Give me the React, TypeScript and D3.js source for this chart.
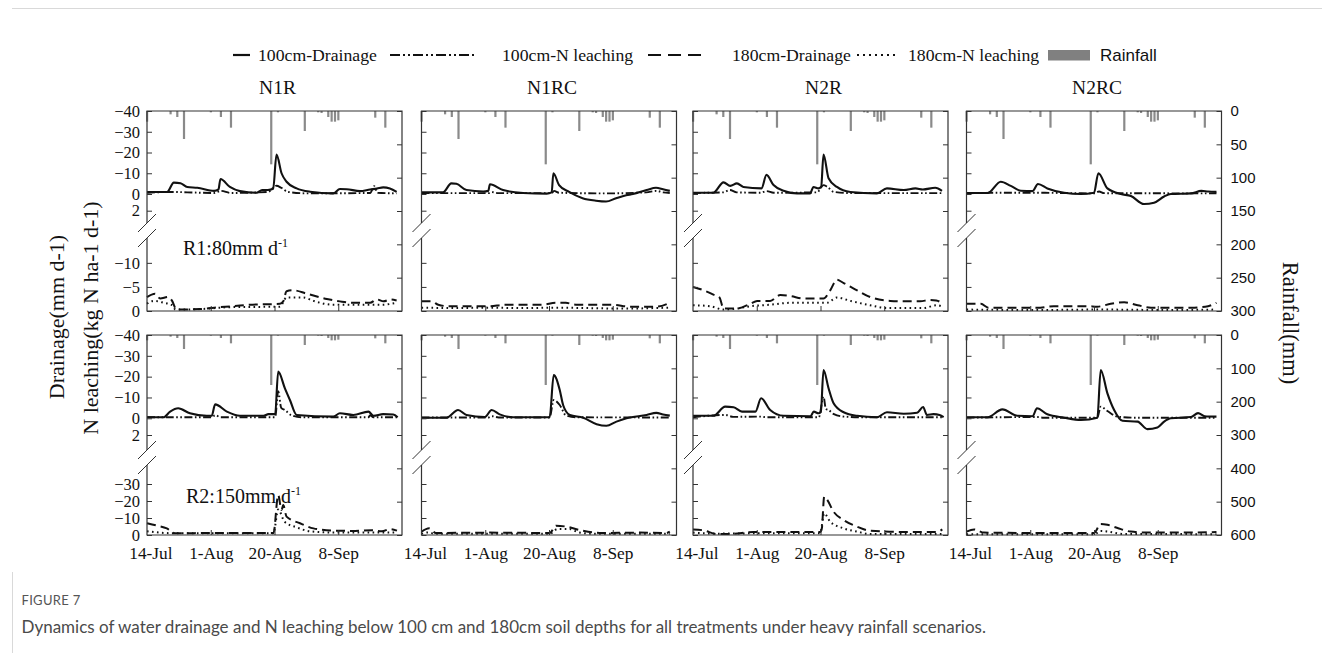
import * as d3 from "d3";
import { useEffect, useRef } from "react";

type Pt = [number, number];

// x axis: day 0 = 13-Jul
const panelNames = ["N1R", "N1RC", "N2R", "N2RC"];
const tickDays = [1, 19, 38, 57];
const tickLabels = ["14-Jul", "1-Aug", "20-Aug", "8-Sep"];

// daily rainfall (mm); the two scenarios differ only in the storm of 19-Aug
const rainDays = [0, 7, 9, 11, 19, 22, 25, 37, 39, 47, 51, 52, 54, 55, 56, 57, 68, 71];
const rainR1 = [16, 5, 9, 42, 2, 9, 25, 80, 2, 30, 2, 3, 9, 16, 16, 14, 10, 25];
const rainR2 = [16, 5, 9, 42, 2, 9, 25, 150, 2, 30, 2, 3, 9, 16, 16, 14, 10, 25];

// ---- R1 : 80 mm d-1 ----
const r1N1R_d100: Pt[] = [[0,-1],[6,-1],[8,-5.5],[10,-5.2],[12,-3.4],[15,-3],[20,-1.5],[21.3,-2.2],[21.9,-7.2],[24.7,-3.4],[27.7,-1.4],[32.7,-0.6],[34.3,-1.9],[36,-1.9],[37.6,-2.5],[38.6,-19],[40.1,-10],[41.6,-5.9],[44.6,-2.7],[48.6,-1.1],[55.5,-0.3],[57.5,-2.4],[59.5,-2.3],[63.5,-1.4],[66.5,-2.2],[68.5,-2.6],[70.4,-3.2],[72.4,-2.7],[74.4,-1]];
const r1N1R_n100: Pt[] = [[0,-0.6],[8,-1],[12,-0.8],[20,-0.5],[22,-1.5],[25,-0.5],[36,-1],[38.6,-4],[40,-3],[42,-1],[48,-0.3],[66.5,-0.5],[67.7,-3.8],[68.7,-0.6],[74.4,-0.3]];
const r1N1R_d180: Pt[] = [[0,-2.9],[2.4,-3.6],[3.9,-2.6],[6.3,-2.9],[7.4,-2.2],[8.8,-0.3],[15.8,-0.4],[20,-0.7],[25.7,-1],[30.7,-1.3],[39.6,-1.5],[40.6,-2],[41.6,-4.1],[43.6,-4.3],[47.6,-3.6],[53.6,-2.5],[57.5,-2],[61.5,-1.7],[66.5,-1.7],[68.5,-2.4],[70.5,-2],[72.5,-2.4],[74.4,-2.2]];
const r1N1R_n180: Pt[] = [[0,-1.5],[2,-2.1],[5,-1.7],[7.5,-1.2],[8.5,-0.3],[16,-0.4],[25,-0.8],[39.6,-0.9],[41.6,-2.8],[46.6,-2.8],[49.6,-2.1],[55.5,-1.3],[66,-1.3],[70,-1.3],[74.4,-1.7]];

const r1N1RC_d100: Pt[] = [[0,-0.8],[6.4,-0.8],[8.9,-5.1],[10.4,-4.9],[13.4,-1.9],[18.4,-1.2],[19.9,-1.5],[20.4,-4.7],[24.3,-1.9],[30.3,-0.5],[37.3,-0.2],[38.8,-0.8],[39.3,-10],[41,-4.3],[44,-1],[48,0.5],[52,0.8],[55,0.9],[58,0.5],[61,0.15],[63,0],[67.1,-1.9],[69.9,-3],[72,-2.3],[74,-1.5]];
const r1N1RC_n100: Pt[] = [[0,-0.4],[20,-0.4],[21,-0.9],[23,-0.4],[38.8,-0.4],[39.5,-1.5],[41,-0.6],[55,-0.3],[67,-0.8],[70,-1.5],[72,-0.8],[74,-0.5]];
const r1N1RC_d180: Pt[] = [[0,-2],[3,-2],[5,-1.3],[8,-1],[20,-1],[25,-1.3],[36,-1.3],[40,-1.7],[43,-1.7],[46,-1.3],[57,-1.3],[62,-0.9],[70,-0.9],[74,-1.7]];
const r1N1RC_n180: Pt[] = [[0,-0.7],[10,-0.6],[20,-0.7],[30,-0.6],[40,-0.7],[50,-0.6],[60,-0.5],[74,-0.7]];

const r1N2R_d100: Pt[] = [[0,-0.6],[6,-0.6],[9.1,-5.6],[11.1,-3.9],[13.1,-5.1],[15,-3.4],[20.4,-2.7],[21.9,-9.2],[24,-4.3],[27,-1.6],[31,-0.3],[34.9,-0.3],[35.9,-3.4],[37.4,-2.7],[38.2,-3.5],[38.9,-19],[40.4,-7.6],[42.9,-3.4],[46.9,-1],[54.8,-0.3],[57.8,-2.7],[62.8,-1.9],[66.3,-2.7],[68.5,-2.2],[72.2,-3],[74.2,-1.5]];
const r1N2R_n100: Pt[] = [[0,-0.5],[9,-0.8],[11,-1.9],[13,-0.8],[20,-0.6],[22,-1.4],[24,-0.6],[37,-0.8],[38.9,-4.3],[40,-3.5],[42,-1],[48,-0.4],[74,-0.4]];
const r1N2R_d180: Pt[] = [[0,-5],[3.2,-4.3],[6.1,-3.4],[7.9,-2.8],[9.1,-0.5],[13,-0.5],[17.1,-1.5],[19.1,-2.1],[23,-2.1],[26,-3.3],[29,-3.1],[33,-2.6],[38.9,-2.6],[40.9,-4.3],[42.9,-6.5],[44.9,-5.8],[48.9,-4.3],[52.8,-2.9],[58.8,-2.1],[62.8,-2],[67.7,-2],[70.6,-2.3],[72.5,-2.2],[74.5,-1.5]];
const r1N2R_n180: Pt[] = [[0,-1.2],[5,-1],[9.1,-0.3],[13,-0.5],[17.1,-1],[23,-1.3],[29,-1.7],[35,-1.7],[39.9,-1.7],[42.9,-2.8],[46.9,-2.1],[52.8,-1.2],[57.8,-0.6],[68.7,-0.6],[72.6,-1.2],[74.5,-0.9]];

const r1N2RC_d100: Pt[] = [[0,-0.5],[6.3,-0.5],[10.2,-5.9],[13.2,-3.9],[16.2,-1.6],[19.7,-1.4],[21.3,-4.8],[24.1,-2.7],[29.1,-0.6],[34.1,0],[38,-0.6],[39.3,-10],[42,-2.7],[46,0],[49,0.25],[52.9,1.2],[55.9,1.05],[58.9,0.3],[60.9,0],[66.9,-0.3],[70,-1.5],[72,-1.2],[74.5,-1]];
const r1N2RC_n100: Pt[] = [[0,-0.3],[10,-0.6],[21,-0.6],[38,-0.3],[39.5,-1.2],[41,-0.4],[74.5,-0.3]];
const r1N2RC_d180: Pt[] = [[0,-1.5],[4.3,-1.5],[6.5,-0.7],[22,-0.7],[26,-1],[36,-1],[39,-0.9],[43,-1.5],[47,-1.8],[51,-1.2],[55,-0.7],[67,-0.7],[72,-1],[74.5,-1.7]];
const r1N2RC_n180: Pt[] = [[0,-0.3],[20,-0.2],[40,-0.3],[60,-0.2],[74.5,-0.3]];

// ---- R2 : 150 mm d-1 ----
const r2N1R_d100: Pt[] = [[0,-0.5],[4.9,-0.5],[6.9,-3.2],[9.3,-4.8],[12.8,-2.4],[17.8,-1.2],[19.3,-1.2],[20.3,-6.7],[23.8,-3.2],[27.7,-1.2],[34.7,-1.2],[36.2,-2],[38.2,-2],[39.1,-22.4],[41.1,-14.4],[42.6,-8.8],[44.6,-1.6],[55.5,-0.8],[57.5,-2.4],[61.5,-1.6],[66,-3.2],[67.5,-1.2],[70.4,-2],[73.4,-1.8],[74.7,-0.5]];
const r2N1R_n100: Pt[] = [[0,-0.5],[19.3,-0.5],[20.3,-1.5],[22,-0.5],[38.2,-0.5],[39.1,-13],[40,-5],[41.1,-4],[43,-1.5],[46,-0.5],[66,-0.5],[66.5,-1.5],[67.5,-0.5],[74.7,-0.5]];
const r2N1R_d180: Pt[] = [[0,-6.9],[3,-5.5],[5.9,-3.9],[8.3,-1],[20,-1.2],[37.7,-1.2],[39.1,-23.5],[40.1,-14.7],[40.6,-17.6],[41.6,-10.8],[45.6,-6.9],[49.6,-3.9],[55.5,-2.6],[62,-2.4],[67,-2.8],[70,-2.2],[72.5,-3.5],[74.5,-2.6]];
const r2N1R_n180: Pt[] = [[0,-2.2],[8,-1],[37.7,-1],[39.1,-15],[41,-7.8],[44.6,-4.5],[48.6,-2.2],[55.5,-1.5],[74.5,-1.5]];

const r2N1RC_d100: Pt[] = [[0,-0.3],[7.5,-0.3],[10.9,-4],[13.4,-1.6],[18.9,-0.6],[20.9,-4],[23.3,-1.9],[27.3,-0.5],[38.2,-0.5],[39.4,-20.8],[41.2,-13.6],[42.2,-6.4],[44.2,-1.6],[48.2,-0.3],[52.2,0.7],[55.1,0.9],[58.1,0.4],[61.1,0],[67.1,-1.6],[70,-2.6],[72,-1.8],[74,-1.3]];
const r2N1RC_n100: Pt[] = [[0,-0.4],[20,-0.4],[21,-1],[23,-0.4],[38.2,-0.4],[39.4,-8.8],[41.2,-6.4],[43,-1.5],[46,-0.5],[74,-0.4]];
const r2N1RC_d180: Pt[] = [[0,-1.9],[2.3,-3.9],[4.3,-1.2],[20,-1.4],[38.2,-1.2],[40.1,-5.5],[43.2,-4.9],[47.2,-2.9],[53.2,-1.2],[65,-1.4],[73,-1.2],[74,-2]];
const r2N1RC_n180: Pt[] = [[0,-0.7],[2,-1.5],[4,-0.7],[38.2,-0.7],[40.5,-3.5],[44,-3.5],[47,-1.5],[52,-0.7],[74,-0.7]];

const r2N2R_d100: Pt[] = [[0,-1.2],[6.1,-1.2],[9.6,-5.6],[12.1,-5.3],[14.6,-3.2],[18.6,-3.2],[20.3,-9.6],[23,-4],[27,-1.2],[35,-1],[36,-3.2],[37.4,-2.4],[38.1,-3],[38.9,-23.2],[40.4,-14.4],[41.9,-7.2],[44.9,-2.9],[48.9,-1.2],[54.8,-0.5],[57.8,-2.9],[62.8,-2.2],[66.8,-2.7],[68.6,-5.4],[69.7,-1.6],[71.7,-2],[73.5,-1.6],[74.7,-0.6]];
const r2N2R_n100: Pt[] = [[0,-0.5],[9.6,-1.6],[12,-0.7],[20.3,-0.8],[22,-0.5],[37.5,-0.5],[38.9,-10.4],[39.6,-4.5],[40.4,-4],[42,-2],[45,-0.8],[50,-0.5],[74.7,-0.5]];
const r2N2R_d180: Pt[] = [[0,-3.3],[3.2,-2.7],[7.1,-0.6],[11.1,-0.6],[18,-1.8],[37.9,-1.8],[38.4,-4],[39.1,-22.5],[39.9,-21],[41.9,-13.7],[44.9,-8.8],[48.9,-4.9],[52.8,-2.5],[62.8,-1.8],[72.8,-1.8],[74.3,-3.3]];
const r2N2R_n180: Pt[] = [[0,-1.4],[7,-0.8],[20,-1],[37.9,-1],[39.1,-12.7],[40.9,-7.8],[44.9,-3.9],[48.9,-2],[52.8,-0.6],[74.3,-0.6]];

const r2N2RC_d100: Pt[] = [[0,-0.5],[6.3,-0.5],[10.7,-4.3],[15.2,-1.2],[19.7,-1],[21,-4.8],[24.1,-1.9],[29.1,-0.3],[34.1,0.2],[39,-0.3],[40,-23.2],[42,-12],[44,-4],[46.5,0.3],[51,0.4],[53.9,1.3],[56.9,1.1],[58.9,0.4],[60.9,0],[66.9,-0.6],[69,-2.5],[71,-1],[74.5,-0.8]];
const r2N2RC_n100: Pt[] = [[0,-0.3],[21,-0.6],[23,-0.3],[39,-0.3],[40,-5.6],[42,-3.5],[45,-0.8],[50,-0.3],[74.5,-0.3]];
const r2N2RC_d180: Pt[] = [[0,-2],[2.3,-3.3],[5.2,-1.4],[20,-1.2],[38,-1.2],[40,-6.5],[42,-6],[45,-4.1],[48.9,-2],[53.9,-1.4],[66.9,-1.4],[74.5,-1.8]];
const r2N2RC_n180: Pt[] = [[0,-0.4],[38,-0.4],[40,-2.4],[42,-2],[47,-0.6],[74.5,-0.5]];

const seriesR1 = [
  [r1N1R_d100, r1N1R_n100, r1N1R_d180, r1N1R_n180],
  [r1N1RC_d100, r1N1RC_n100, r1N1RC_d180, r1N1RC_n180],
  [r1N2R_d100, r1N2R_n100, r1N2R_d180, r1N2R_n180],
  [r1N2RC_d100, r1N2RC_n100, r1N2RC_d180, r1N2RC_n180],
];
const seriesR2 = [
  [r2N1R_d100, r2N1R_n100, r2N1R_d180, r2N1R_n180],
  [r2N1RC_d100, r2N1RC_n100, r2N1RC_d180, r2N1RC_n180],
  [r2N2R_d100, r2N2R_n100, r2N2R_d180, r2N2R_n180],
  [r2N2RC_d100, r2N2RC_n100, r2N2RC_d180, r2N2RC_n180],
];

const SERIF = "'Liberation Serif', 'Times New Roman', serif";
const SANS = "'Liberation Sans', Arial, sans-serif";
const CAPTION = "Lato, 'Open Sans', sans-serif";

const panelLefts = [147, 421.5, 693, 966.5];
const panelW = 255;

const rows = [
  { top: 111, zeroY: 194, twoY: 210.7, lowTop: 214.7, lowMin: -20, bottom: 311,
    lowTicks: [-10, -5, 0], rainMax: 300, rainStep: 50, breaks: [223, 238],
    rain: rainR1, series: seriesR1, note: "R1:80mm d", noteX: 36, noteY: 255 },
  { top: 335, zeroY: 418.3, twoY: 435, lowTop: 433, lowMin: -60, bottom: 535,
    lowTicks: [-30, -20, -10, 0], rainMax: 600, rainStep: 100, breaks: [450, 465],
    rain: rainR2, series: seriesR2, note: "R2:150mm d", noteX: 39, noteY: 503 },
];

// line styles: 100cm drainage, 100cm N leaching, 180cm drainage, 180cm N leaching
const lineStyles = [
  { dash: null as string | null, width: 2.1 },
  { dash: "8,2.5,1.6,2.5,1.6,2.5", width: 1.9 },
  { dash: "9,5", width: 2 },
  { dash: "1.6,3.4", width: 2 },
];

const fmtTick = (d: number) => (d < 0 ? "\u2212" + Math.abs(d) : String(d));

export default function App() {
  const ref = useRef<SVGSVGElement>(null);

  useEffect(() => {
    const svg = d3.select(ref.current);
    svg.selectAll("*").remove();

    svg.append("rect").attr("width", 1322).attr("height", 653).attr("fill", "#fff");
    // page frame lines
    svg.append("line").attr("x1", 12).attr("x2", 1322).attr("y1", 8.5).attr("y2", 8.5)
      .attr("stroke", "#d9d9d9").attr("stroke-width", 1);
    svg.append("line").attr("x1", 12.5).attr("x2", 12.5).attr("y1", 572).attr("y2", 653)
      .attr("stroke", "#d9d9d9").attr("stroke-width", 1);

    // legend
    const legendItems = [
      { x1: 233, x2: 250, st: 0, tx: 258, label: "100cm-Drainage" },
      { x1: 390, x2: 475, st: 1, tx: 502, label: "100cm-N leaching" },
      { x1: 648, x2: 708, st: 2, tx: 732, label: "180cm-Drainage" },
      { x1: 857, x2: 897, st: 3, tx: 908, label: "180cm-N leaching" },
    ];
    const legDash = ["", "10,3,2,3,2,3", "13,7", "2,4"];
    const leg = svg.append("g");
    legendItems.forEach((it) => {
      leg.append("line").attr("x1", it.x1).attr("x2", it.x2).attr("y1", 55).attr("y2", 55)
        .attr("stroke", "#111").attr("stroke-width", 2.2)
        .attr("stroke-dasharray", legDash[it.st] || null);
      leg.append("text").attr("x", it.tx).attr("y", 60.5).text(it.label)
        .attr("font-family", SERIF).attr("font-size", 17.7).attr("fill", "#111");
    });
    leg.append("rect").attr("x", 1048).attr("y", 50).attr("width", 42).attr("height", 10.5).attr("fill", "#808080");
    leg.append("text").attr("x", 1100).attr("y", 61).text("Rainfall")
      .attr("font-family", SANS).attr("font-size", 17).attr("fill", "#111");

    // panel titles
    panelNames.forEach((name, pi) => {
      svg.append("text").attr("x", panelLefts[pi] + panelW / 2 + 3).attr("y", 93.5)
        .attr("text-anchor", "middle").attr("font-family", SERIF).attr("font-size", 19.5)
        .attr("fill", "#111").text(name);
    });

    const styleAxis = (g: any, size: number, family: string) => {
      g.select(".domain").remove();
      g.selectAll(".tick line").attr("stroke", "#333").attr("stroke-width", 1);
      g.selectAll(".tick text").attr("font-family", family).attr("font-size", size).attr("fill", "#111");
    };

    rows.forEach((row, ri) => {
      panelNames.forEach((_, pi) => {
        const left = panelLefts[pi];
        const right = left + panelW;
        const x = d3.scaleLinear().domain([0, 76]).range([left, right]);
        const yUp = d3.scaleLinear().domain([-40, 0, 2]).range([row.top, row.zeroY, row.twoY]);
        const yLow = d3.scaleLinear().domain([row.lowMin, 0]).range([row.lowTop, row.bottom]);
        const yRain = d3.scaleLinear().domain([0, row.rainMax]).range([row.top, row.bottom]);
        const g = svg.append("g");

        // rainfall bars hanging from the top
        g.selectAll("rect.rain")
          .data(rainDays.map((d, i) => [d, row.rain[i]] as Pt))
          .join("rect")
          .attr("class", "rain")
          .attr("x", (d) => x(d[0]) - 1)
          .attr("y", row.top)
          .attr("width", 2.2)
          .attr("height", (d) => yRain(d[1]) - row.top)
          .attr("fill", "#8a8a8a");

        // series
        row.series[pi].forEach((pts, si) => {
          const ys = si < 2 ? yUp : yLow;
          const line = d3.line<Pt>().x((d) => x(d[0])).y((d) => ys(d[1])).curve(d3.curveMonotoneX);
          g.append("path").attr("d", line(pts) as string)
            .attr("fill", "none").attr("stroke", "#111")
            .attr("stroke-width", lineStyles[si].width)
            .attr("stroke-linejoin", "round")
            .attr("stroke-dasharray", lineStyles[si].dash);
        });

        // axes (inward ticks)
        const fmtL = pi === 0 ? fmtTick : () => "";
        g.append("g").attr("transform", `translate(${left},0)`)
          .call(d3.axisLeft(yUp).tickValues([-40, -30, -20, -10, 0, 2]).tickSize(-5).tickPadding(7).tickFormat(fmtL as any))
          .call((a: any) => styleAxis(a, 16.5, SERIF));
        g.append("g").attr("transform", `translate(${left},0)`)
          .call(d3.axisLeft(yLow).tickValues(row.lowTicks).tickSize(-5).tickPadding(7).tickFormat(fmtL as any))
          .call((a: any) => styleAxis(a, 16.5, SERIF));
        g.append("g").attr("transform", `translate(${right},0)`)
          .call(d3.axisRight(yRain).tickValues(d3.range(0, row.rainMax + 1, row.rainStep)).tickSize(-5).tickPadding(9)
            .tickFormat((pi === 3 ? (d: any) => String(d) : () => "") as any))
          .call((a: any) => styleAxis(a, 15, SANS));
        g.append("g").attr("transform", `translate(0,${row.bottom})`)
          .call(d3.axisBottom(x).tickValues(tickDays).tickSize(-5).tickPadding(12)
            .tickFormat((ri === 1 ? (_d: any, i: number) => tickLabels[i] : () => "") as any))
          .call((a: any) => {
            styleAxis(a, 17.3, SERIF);
            a.selectAll(".tick line").filter((d: number) => d === tickDays[0]).remove();
          });

        // frame with a broken left axis
        const fr = g.append("g").attr("stroke", "#333").attr("stroke-width", 1.2).attr("fill", "none");
        fr.append("path").attr("d",
          `M${left},${row.breaks[0]}V${row.top}H${right}V${row.bottom}H${left}V${row.breaks[1]}`);
        row.breaks.forEach((c) => {
          fr.append("line").attr("x1", left - 9).attr("y1", c + 9).attr("x2", left + 9).attr("y2", c - 9)
            .attr("stroke-width", 1);
        });
      });

      // scenario note
      const note = svg.append("text").attr("x", panelLefts[0] + row.noteX).attr("y", row.noteY)
        .attr("font-family", SERIF).attr("font-size", 20).attr("fill", "#111");
      note.append("tspan").text(row.note);
      note.append("tspan").attr("dy", -8).attr("font-size", 12).text("-1");
    });

    // axis titles
    svg.append("text").attr("transform", "translate(64,317) rotate(-90)").attr("text-anchor", "middle")
      .attr("font-family", SERIF).attr("font-size", 22).attr("fill", "#111").text("Drainage(mm d-1)");
    svg.append("text").attr("transform", "translate(98,318) rotate(-90)").attr("text-anchor", "middle")
      .attr("font-family", SERIF).attr("font-size", 22).attr("fill", "#111").text("N leaching(kg N ha-1 d-1)");
    svg.append("text").attr("transform", "translate(1283,323) rotate(90)").attr("text-anchor", "middle")
      .attr("font-family", SERIF).attr("font-size", 22.5).attr("fill", "#111").text("Rainfall(mm)");

    // caption
    svg.append("text").attr("x", 21.5).attr("y", 605).text("FIGURE 7")
      .attr("font-family", CAPTION).attr("font-size", 13).attr("letter-spacing", 0.3).attr("fill", "#555");
    svg.append("text").attr("x", 21.5).attr("y", 633)
      .text("Dynamics of water drainage and N leaching below 100 cm and 180cm soil depths for all treatments under heavy rainfall scenarios.")
      .attr("font-family", CAPTION).attr("font-size", 17).attr("fill", "#4a4a4a");
  }, []);

  return (
    <svg ref={ref} width={1322} height={653}
      style={{ position: "absolute", left: 0, top: 0, display: "block" }} />
  );
}
